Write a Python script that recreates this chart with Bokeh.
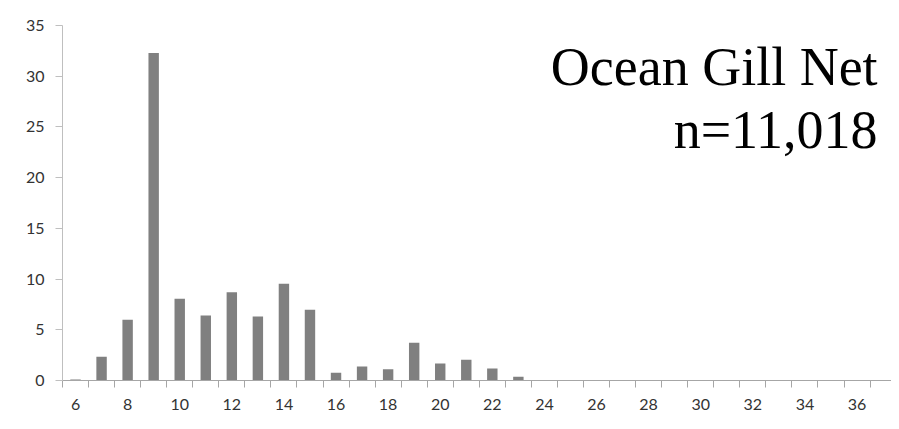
from bokeh.plotting import figure
from bokeh.models import Range1d, FixedTicker, Label, ColumnDataSource
from bokeh.embed import file_html
from bokeh.resources import INLINE

# Data
categories = list(range(6, 38))
values = [0.1, 2.34, 6.0, 32.3, 8.06, 6.41, 8.71, 6.31, 9.53, 6.97,
          0.76, 1.38, 1.12, 3.71, 1.68, 2.04, 1.18, 0.36,
          0, 0, 0, 0, 0, 0, 0, 0, 0, 0, 0, 0, 0, 0]
x_tick_labels = list(range(6, 37, 2))
y_ticks = [0, 5, 10, 15, 20, 25, 30, 35]
title_line1 = "Ocean Gill Net"
title_line2 = "n=11,018"

W, H = 891, 421
left_px, top_px, bottom_px = 62, 25, 380
cat_px = 26.05
x_end = categories[0] - 0.5 + (W - left_px) / cat_px

src = ColumnDataSource(dict(x=categories, top=values))

p = figure(width=W, height=H, output_backend="svg", toolbar_location=None,
           x_range=Range1d(categories[0] - 0.5, x_end),
           y_range=Range1d(0, 35),
           min_border_left=left_px, min_border_right=0, min_border_top=top_px,
           min_border_bottom=H - bottom_px)
p.background_fill_color = "white"
p.border_fill_color = "white"
p.outline_line_color = None
p.xgrid.grid_line_color = None
p.ygrid.grid_line_color = None

p.vbar(x="x", top="top", width=0.4, source=src, fill_color="#808080", line_color=None)

# x axis
xa = p.xaxis[0]
xa.ticker = FixedTicker(ticks=x_tick_labels,
                        minor_ticks=[c - 0.5 for c in categories] + [categories[-1] + 0.5])
xa.major_tick_out = 0
xa.major_tick_in = 0
xa.minor_tick_out = 7
xa.minor_tick_in = 0
xa.minor_tick_line_color = "#a6a6a6"
xa.axis_line_color = "#a6a6a6"
xa.major_label_standoff = 11
xa.major_label_text_font = "Lato"
xa.major_label_text_font_size = "16px"
xa.major_label_text_color = "#333333"

# y axis
ya = p.yaxis[0]
ya.ticker = FixedTicker(ticks=y_ticks)
ya.major_tick_out = 7
ya.major_tick_in = 0
ya.minor_tick_line_color = None
ya.major_tick_line_color = "#bfbfbf"
ya.axis_line_color = "#bfbfbf"
ya.major_label_standoff = 11
ya.major_label_text_font = "Lato"
ya.major_label_text_font_size = "16px"
ya.major_label_text_color = "#333333"

for txt, yv in [(title_line1, 30.87), (title_line2, 24.65)]:
    p.add_layout(Label(x=36.79, y=yv, text=txt, text_align="right",
                       text_baseline="alphabetic", text_font="Liberation Serif",
                       text_font_size="54px", text_color="black"))

open("out.html", "w").write(file_html(p, INLINE))
